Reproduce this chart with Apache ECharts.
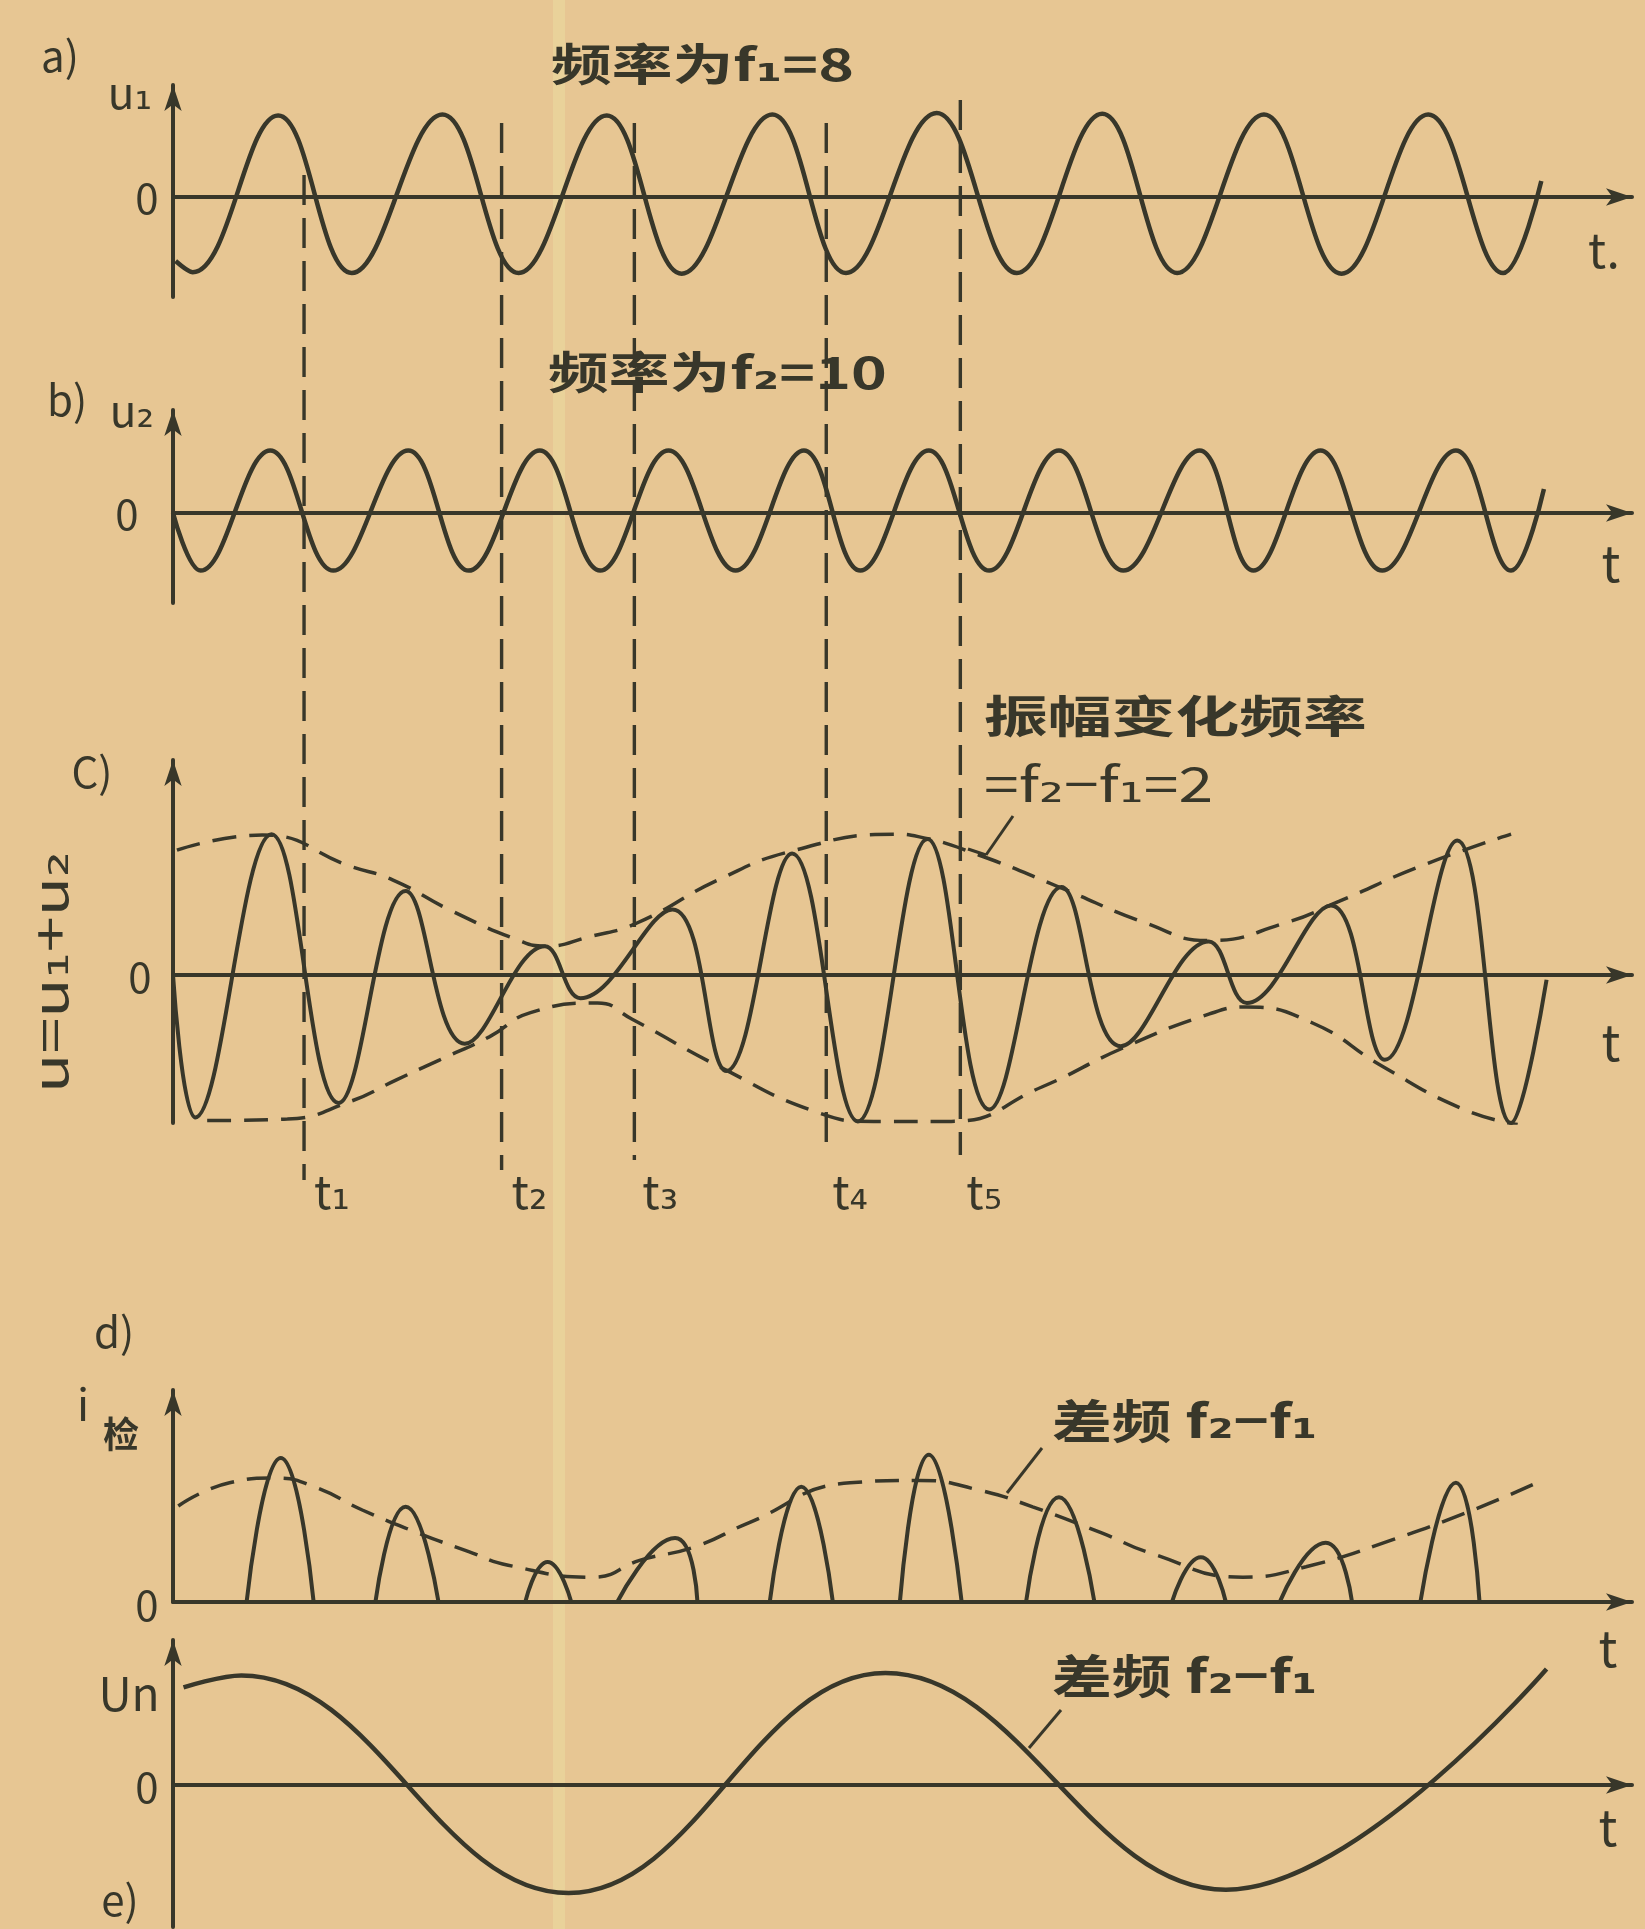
<!DOCTYPE html>
<html><head><meta charset="utf-8">
<script src="https://cdn.jsdelivr.net/npm/echarts@6/dist/echarts.min.js"></script>
<style>html,body{margin:0;padding:0;background:#e7c693}#c{width:1645px;height:1929px}</style>
</head><body><div id="c"></div>
<script>
// ---------- data (t in units of the common time axis) ----------
const tAxisMax = 1.11;

// a) u1, frequency f1 = 8 : [t, u1]
const u1Points = [[0.002,-0.80],[0.015,-0.94],[0.080,1.02],[0.136,-0.95],[0.205,1.03],[0.263,-0.95],[0.330,1.02],[0.387,-0.96],[0.456,1.03],[0.512,-0.95],[0.581,1.05],[0.642,-0.95],[0.707,1.04],[0.764,-0.95],[0.830,1.03],[0.889,-0.96],[0.955,1.03],[1.012,-0.95],[1.041,0.20]];

// b) u2, frequency f2 = 10 : [t, u2]
const u2Points = [[0.000,0.00],[0.021,-0.72],[0.074,0.78],[0.122,-0.72],[0.179,0.78],[0.225,-0.72],[0.279,0.78],[0.325,-0.72],[0.377,0.78],[0.428,-0.72],[0.480,0.78],[0.523,-0.72],[0.575,0.78],[0.621,-0.72],[0.674,0.78],[0.723,-0.72],[0.781,0.78],[0.822,-0.72],[0.873,0.78],[0.920,-0.72],[0.976,0.78],[1.018,-0.72],[1.043,0.30]];

// c) u = u1 + u2 : [t, u]
const sumPoints = [[0.000,0.00],[0.017,-1.78],[0.075,1.76],[0.126,-1.60],[0.177,1.05],[0.222,-0.86],[0.283,0.36],[0.310,-0.29],[0.380,0.82],[0.421,-1.20],[0.471,1.52],[0.521,-1.83],[0.574,1.70],[0.621,-1.68],[0.676,1.10],[0.721,-0.89],[0.788,0.42],[0.817,-0.35],[0.881,0.87],[0.922,-1.06],[0.977,1.68],[1.018,-1.85],[1.045,-0.06]];
const upperEnvelope = [[0.003,1.56],[0.068,1.75],[0.135,1.36],[0.167,1.19],[0.211,0.81],[0.262,0.44],[0.283,0.36],[0.317,0.48],[0.353,0.65],[0.415,1.19],[0.471,1.55],[0.549,1.76],[0.567,1.73],[0.613,1.50],[0.674,1.10],[0.740,0.65],[0.788,0.43],[0.846,0.65],[0.887,0.92],[0.949,1.36],[1.018,1.76]];
const lowerEnvelope = [[0.026,-1.82],[0.087,-1.80],[0.135,-1.58],[0.170,-1.31],[0.203,-1.06],[0.241,-0.77],[0.272,-0.47],[0.323,-0.35],[0.349,-0.55],[0.415,-1.14],[0.489,-1.71],[0.533,-1.83],[0.592,-1.83],[0.661,-1.40],[0.723,-0.91],[0.788,-0.49],[0.817,-0.40],[0.867,-0.60],[0.920,-1.14],[0.982,-1.68],[1.023,-1.87]];

// d) detector current pulses: start, peak time, end, peak height
const humpStart  = [0.056,0.154,0.268,0.338,0.454,0.553,0.649,0.760,0.842,0.949];
const humpPeakT  = [0.082,0.177,0.285,0.382,0.478,0.575,0.674,0.782,0.877,0.976];
const humpEnd    = [0.107,0.202,0.303,0.399,0.502,0.600,0.701,0.801,0.897,0.994];
const humpHeight = [1.80,1.19,0.50,0.80,1.44,1.84,1.31,0.56,0.74,1.49];
const dEnvelope = [[0.004,1.20],[0.043,1.49],[0.078,1.55],[0.109,1.43],[0.144,1.15],[0.187,0.86],[0.225,0.63],[0.255,0.46],[0.320,0.31],[0.355,0.52],[0.397,0.69],[0.438,0.99],[0.515,1.49],[0.568,1.52],[0.613,1.40],[0.654,1.19],[0.707,0.86],[0.744,0.61],[0.814,0.31],[0.862,0.44],[0.928,0.78],[0.989,1.15],[1.039,1.50]];

// e) difference-frequency output Un (start, extremes, end) : [t, Un]
const unPoints = [[0.008,1.22],[0.052,1.37],[0.301,-1.35],[0.542,1.40],[0.801,-1.31],[1.045,1.45]];

// instants t1..t5 marked by vertical dashed lines
const tMarks = [0.0997,0.250,0.351,0.497,0.599];
const tMarkLabels = ['t₁','t₂','t₃','t₄','t₅'];

// ---------- layout ----------
const ink = '#38372a';
const FONT = '"Noto Sans CJK SC","DejaVu Sans",sans-serif';
const unitPx = 80;
const axisLeft = 173, axisRight = 1632;
const panels = [
  {zero:197, top:85,  bottom:297},
  {zero:513, top:410, bottom:603},
  {zero:975, top:760, bottom:1123},
  {zero:1602,top:1390,bottom:1602},
  {zero:1785,top:1640,bottom:1927}
];

const grids = [], xAxes = [], yAxes = [];
panels.forEach((p,i)=>{
  grids.push({left:axisLeft, width:axisRight-axisLeft, top:p.top, height:p.bottom-p.top, outerBoundsMode:'none', containLabel:false});
  xAxes.push({gridIndex:i, type:'value', min:0, max:tAxisMax,
    axisLine:{show:true,onZero:true,lineStyle:{color:ink,width:4},symbol:['none','arrow'],symbolSize:[13,26]},
    axisTick:{show:false}, axisLabel:{show:false}, splitLine:{show:false}});
  yAxes.push({gridIndex:i, type:'value', min:-(p.bottom-p.zero)/unitPx, max:(p.zero-p.top)/unitPx,
    axisLine:{show:true,onZero:false,lineStyle:{color:ink,width:4},symbol:['none','arrow'],symbolSize:[13,26]},
    axisTick:{show:false}, axisLabel:{show:false}, splitLine:{show:false}});
});

const solid = {color:ink, width:4.5};
const dashed = {color:ink, width:3.5, type:[24,13]};
function line(i, data, style, smooth){
  return {type:'line', xAxisIndex:i, yAxisIndex:i, data:data, smooth:smooth, symbol:'none',
          lineStyle:style, silent:true, z:3};
}
const series = [
  line(0, u1Points, solid, 0.4),
  line(1, u2Points, solid, 0.4),
  line(2, sumPoints, {color:ink,width:4}, 0.4),
  line(2, upperEnvelope, dashed, 0.5),
  line(2, lowerEnvelope, dashed, 0.5),
  line(3, dEnvelope, dashed, 0.5),
  line(4, unPoints, solid, 0.4)
];
humpPeakT.forEach((pt,k)=>{
  series.push(line(3, [[humpStart[k],0],[pt,humpHeight[k]],[humpEnd[k],0]], {color:ink,width:4}, 0.55));
});

const chart = echarts.init(document.getElementById('c'), null, {renderer:'canvas'});
chart.setOption({
  backgroundColor:'#e7c693',
  animation:false,
  grid:grids, xAxis:xAxes, yAxis:yAxes, series:series
});

// ---------- annotations ----------
function txt(x,y,text,size,opts){
  opts = opts||{};
  return {type:'text', x:x, y:y, rotation:opts.rot||0, scaleX:opts.sx||1, z:10, silent:true,
    style:{text:text, fill:ink, font:(opts.w||'bold')+' '+size+'px '+FONT,
           textAlign:opts.align||'center', textVerticalAlign:'middle'}};
}
function seg(pts,w,dash){
  return {type:'polyline', z:9, silent:true, shape:{points:pts},
    style:{stroke:ink, lineWidth:w||3, fill:null, lineDash:dash||null}};
}
const graphics = [];
graphics.push({type:'rect', z:0, silent:true, shape:{x:553,y:0,width:12,height:1929}, style:{fill:'rgba(238,232,170,0.35)'}});

const markTop = [175,123,123,123,100];
const markBottom = [1180,1170,1160,1155,1155];
const labelLeft = [10,10,8,6,6];
tMarks.forEach((t,k)=>{
  const x = chart.convertToPixel({xAxisIndex:0}, t);
  graphics.push(seg([[x,markTop[k]],[x,markBottom[k]]],3.4,[30,13]));
  graphics.push(txt(x+labelLeft[k], 1192, tMarkLabels[k], 46, {align:'left',w:'normal'}));
});

// panel a
graphics.push(txt(60,56,'a)',42,{w:'normal'}));
graphics.push(txt(130,92,'u₁',44,{w:'normal'}));
graphics.push(txt(147,198,'0',42,{w:'normal'}));
graphics.push(txt(551,64,'频率为f₁=8',44,{align:'left',sx:1.38}));
graphics.push(txt(1588,250,'t.',48,{align:'left',w:'normal'}));
// panel b
graphics.push(txt(67,400,'b)',42,{w:'normal'}));
graphics.push(txt(132,410,'u₂',44,{w:'normal'}));
graphics.push(txt(127,514,'0',42,{w:'normal'}));
graphics.push(txt(548,372,'频率为f₂=10',44,{align:'left',sx:1.38}));
graphics.push(txt(1611,563,'t',50,{w:'normal'}));
// panel c
graphics.push(txt(92,772,'C)',42,{w:'normal'}));
graphics.push(txt(140,977,'0',42,{w:'normal'}));
graphics.push(txt(50,972,'u=u₁+u₂',48,{rot:Math.PI/2,sx:1.35,w:'normal'}));
graphics.push(txt(1611,1042,'t',50,{w:'normal'}));
graphics.push(txt(984,716,'振幅变化频率',44,{align:'left',sx:1.45}));
graphics.push(txt(984,784,'=f₂−f₁=2',48,{align:'left',sx:1.3,w:'normal'}));
graphics.push(seg([[1013,816],[986,855]],3));
graphics.push(seg([[968,849],[986,855]],3));
// panel d
graphics.push(txt(114,1332,'d)',42,{w:'normal'}));
graphics.push(txt(83,1404,'i',44,{w:'normal'}));
graphics.push(txt(121,1434,'检',36));
graphics.push(txt(147,1605,'0',42,{w:'normal'}));
graphics.push(txt(1052,1421,'差频 f₂−f₁',46,{align:'left',sx:1.3}));
graphics.push(seg([[1042,1448],[1007,1493]],3));
graphics.push(txt(1608,1648,'t',50,{w:'normal'}));
// panel e
graphics.push(txt(129,1694,'Un',46,{w:'normal'}));
graphics.push(txt(147,1787,'0',42,{w:'normal'}));
graphics.push(txt(120,1900,'e)',42,{w:'normal'}));
graphics.push(txt(1052,1676,'差频 f₂−f₁',46,{align:'left',sx:1.3}));
graphics.push(seg([[1061,1710],[1029,1748]],3));
graphics.push(txt(1608,1827,'t',50,{w:'normal'}));

chart.setOption({graphic:graphics});
</script>
</body></html>
